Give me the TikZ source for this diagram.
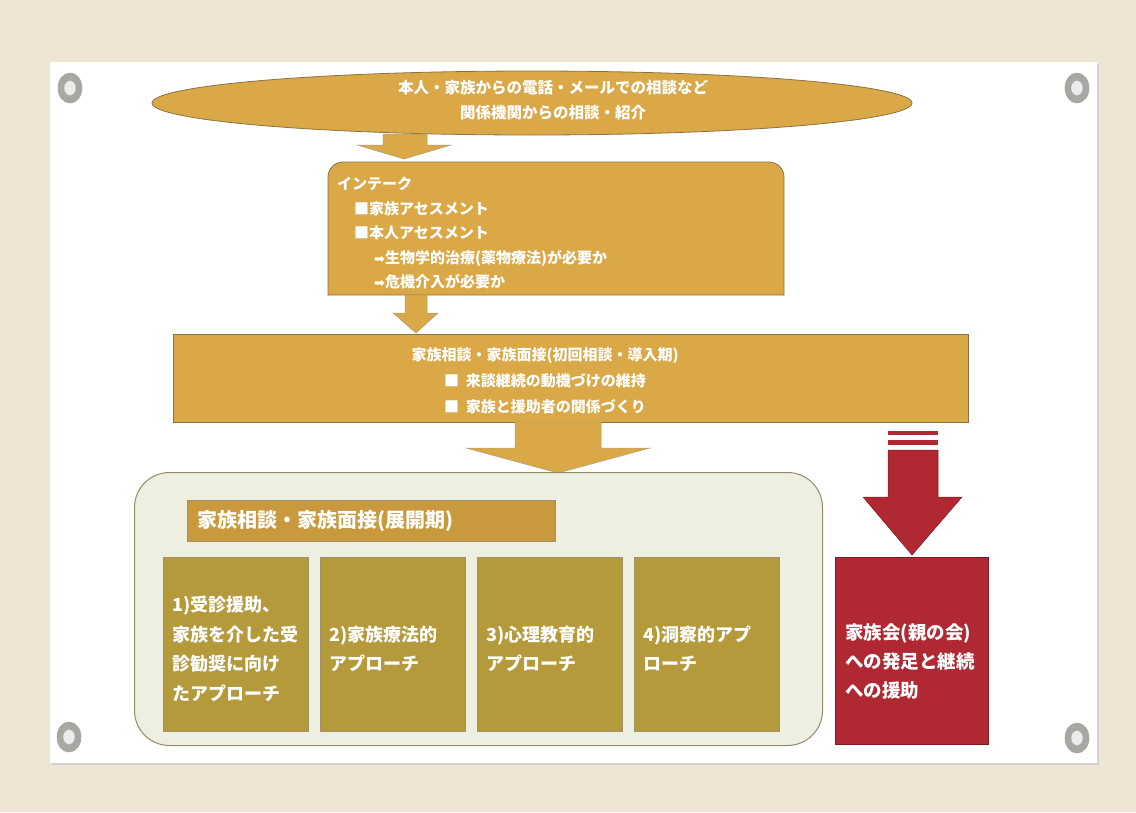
\documentclass[tikz,border=0pt]{standalone}
\usepackage{fontspec}
\setmainfont{Noto Sans CJK JP}
\newfontfamily\dejavu{DejaVu Sans}
\usetikzlibrary{shapes.geometric}
\definecolor{canvas}{HTML}{EEE5D5}
\definecolor{gold}{HTML}{DAA846}
\definecolor{goldline}{HTML}{8A7444}
\definecolor{bar}{HTML}{C9993E}
\definecolor{olive}{HTML}{B49A3B}
\definecolor{sage}{HTML}{EDEFE0}
\definecolor{sageline}{HTML}{958B6C}
\definecolor{wine}{HTML}{AF2832}
\definecolor{wineline}{HTML}{7E1A20}
\definecolor{metal}{HTML}{A9A7A2}
\begin{document}
\begin{tikzpicture}[x=1pt,y=-1pt,
  goldbox/.style={fill=gold, draw=goldline, line width=0.8pt},
  blockarrow/.style={fill=gold, draw=goldline!70, line width=0.5pt},
  wtext/.style={text=white, inner sep=0pt},
  stage/.style={fill=olive, draw=goldline!80, line width=0.6pt, minimum width=145pt, minimum height=174pt, anchor=north west, inner sep=0pt},
  stagetext/.style={wtext, font=\bfseries\fontsize{18}{29.5}\selectfont, align=left, anchor=west},
  grommet/.style={fill=metal, draw=gray!70, line width=0.6pt},
]
\useasboundingbox (0,0) rectangle (1136,812);
\fill[canvas] (0,0) rectangle (1136,812);
% panel
\fill[gray!35] (52,64) rectangle (1099,765);
\fill[white] (50,62) rectangle (1097,763);
% grommets
\foreach \gx/\gy in {70/88,1077/88,69/737,1077/738}{
  \draw[grommet] (\gx,\gy) ellipse [x radius=12, y radius=15];
  \draw[fill=gray!15, draw=gray!60, line width=0.5pt] (\gx,\gy) ellipse [x radius=6, y radius=7.5];
}
% top ellipse
\node[ellipse, goldbox, minimum width=760pt, minimum height=64pt, inner sep=0pt] (top) at (532,103) {};
\node[wtext, align=center, font=\bfseries\fontsize{15.5}{25}\selectfont] (toptext) at (553,100)
  {本人・家族からの電話・メールでの相談など\\関係機関からの相談・紹介};
% arrow 1
\fill[blockarrow] (383,134) -- (427,134) -- (427,145) -- (451,145) -- (404,159) -- (357,145) -- (383,145) -- cycle;
% intake box
\filldraw[goldbox] (328,295) -- (328,177) arc[start angle=180, end angle=270, radius=15] -- (769,162) arc[start angle=270, end angle=360, radius=15] -- (784,295) -- cycle;
\node[wtext, align=left, anchor=north west, font=\bfseries\fontsize{15}{24.5}\selectfont] (intake) at (337,177)
  {インテーク\\
   \hspace*{17pt}■家族アセスメント\\
   \hspace*{17pt}■本人アセスメント\\
   \hspace*{37pt}{\dejavu\bfseries\fontsize{13}{13}\selectfont ➡}生物学的治療(薬物療法)が必要か\\
   \hspace*{37pt}{\dejavu\bfseries\fontsize{13}{13}\selectfont ➡}危機介入が必要か};
% arrow 2
\fill[blockarrow] (405,295) -- (427,295) -- (427,313) -- (438,313) -- (416,333) -- (393,313) -- (405,313) -- cycle;
% initial interview box
\node[goldbox, minimum width=795pt, minimum height=88pt, anchor=north west, inner sep=0pt] (initial) at (173,334) {};
\node[wtext, align=center, font=\bfseries\fontsize{15}{26}\selectfont] (initialtext) at (545,381)
  {家族相談・家族面接(初回相談・導入期)\\
   ■\ \ 来談継続の動機づけの維持\\
   ■\ \ 家族と援助者の関係づくり};
% arrow 3
\fill[blockarrow] (515,422) -- (601,422) -- (601,448) -- (650,448) -- (558,473) -- (466,448) -- (515,448) -- cycle;
% development stage container
\node[fill=sage, draw=sageline, line width=1pt, rounded corners=35pt, minimum width=688pt, minimum height=273pt, anchor=north west, inner sep=0pt] (stagebox) at (134,472) {};
\node[fill=bar, draw=goldline!80, line width=0.6pt, minimum width=368pt, minimum height=41pt, anchor=north west, inner sep=0pt] (titlebar) at (187,500) {};
\node[wtext, anchor=west, font=\bfseries\fontsize{20}{24}\selectfont] (titletext) at (197,521) {家族相談・家族面接(展開期)};
\node[stage] (s1) at (163,557) {};
\node[stage] (s2) at (320,557) {};
\node[stage] (s3) at (477,557) {};
\node[stage] (s4) at (634,557) {};
\node[stagetext] (t1) at (172,649) {1)受診援助、\\家族を介した受\\診勧奨に向け\\たアプローチ};
\node[stagetext] (t2) at (329,649) {2)家族療法的\\アプローチ};
\node[stagetext] (t3) at (486,649) {3)心理教育的\\アプローチ};
\node[stagetext] (t4) at (643,649) {4)洞察的アプ\\ローチ};
% red arrow
\fill[wine] (888,431) rectangle (938,435);
\fill[wine] (888,440) rectangle (938,445);
\fill[wine, draw=wineline, line width=0.5pt] (888,450) -- (938,450) -- (938,497) -- (962,497) -- (912,555) -- (863,497) -- (888,497) -- cycle;
% family group box
\node[fill=wine, draw=wineline, line width=0.6pt, minimum width=153pt, minimum height=187pt, anchor=north west, inner sep=0pt] (family) at (835,557) {};
\node[wtext, align=left, anchor=west, font=\bfseries\fontsize{18.5}{29}\selectfont] (familytext) at (845,661)
  {家族会(親の会)\\への発足と継続\\への援助};
\end{tikzpicture}
\end{document}
